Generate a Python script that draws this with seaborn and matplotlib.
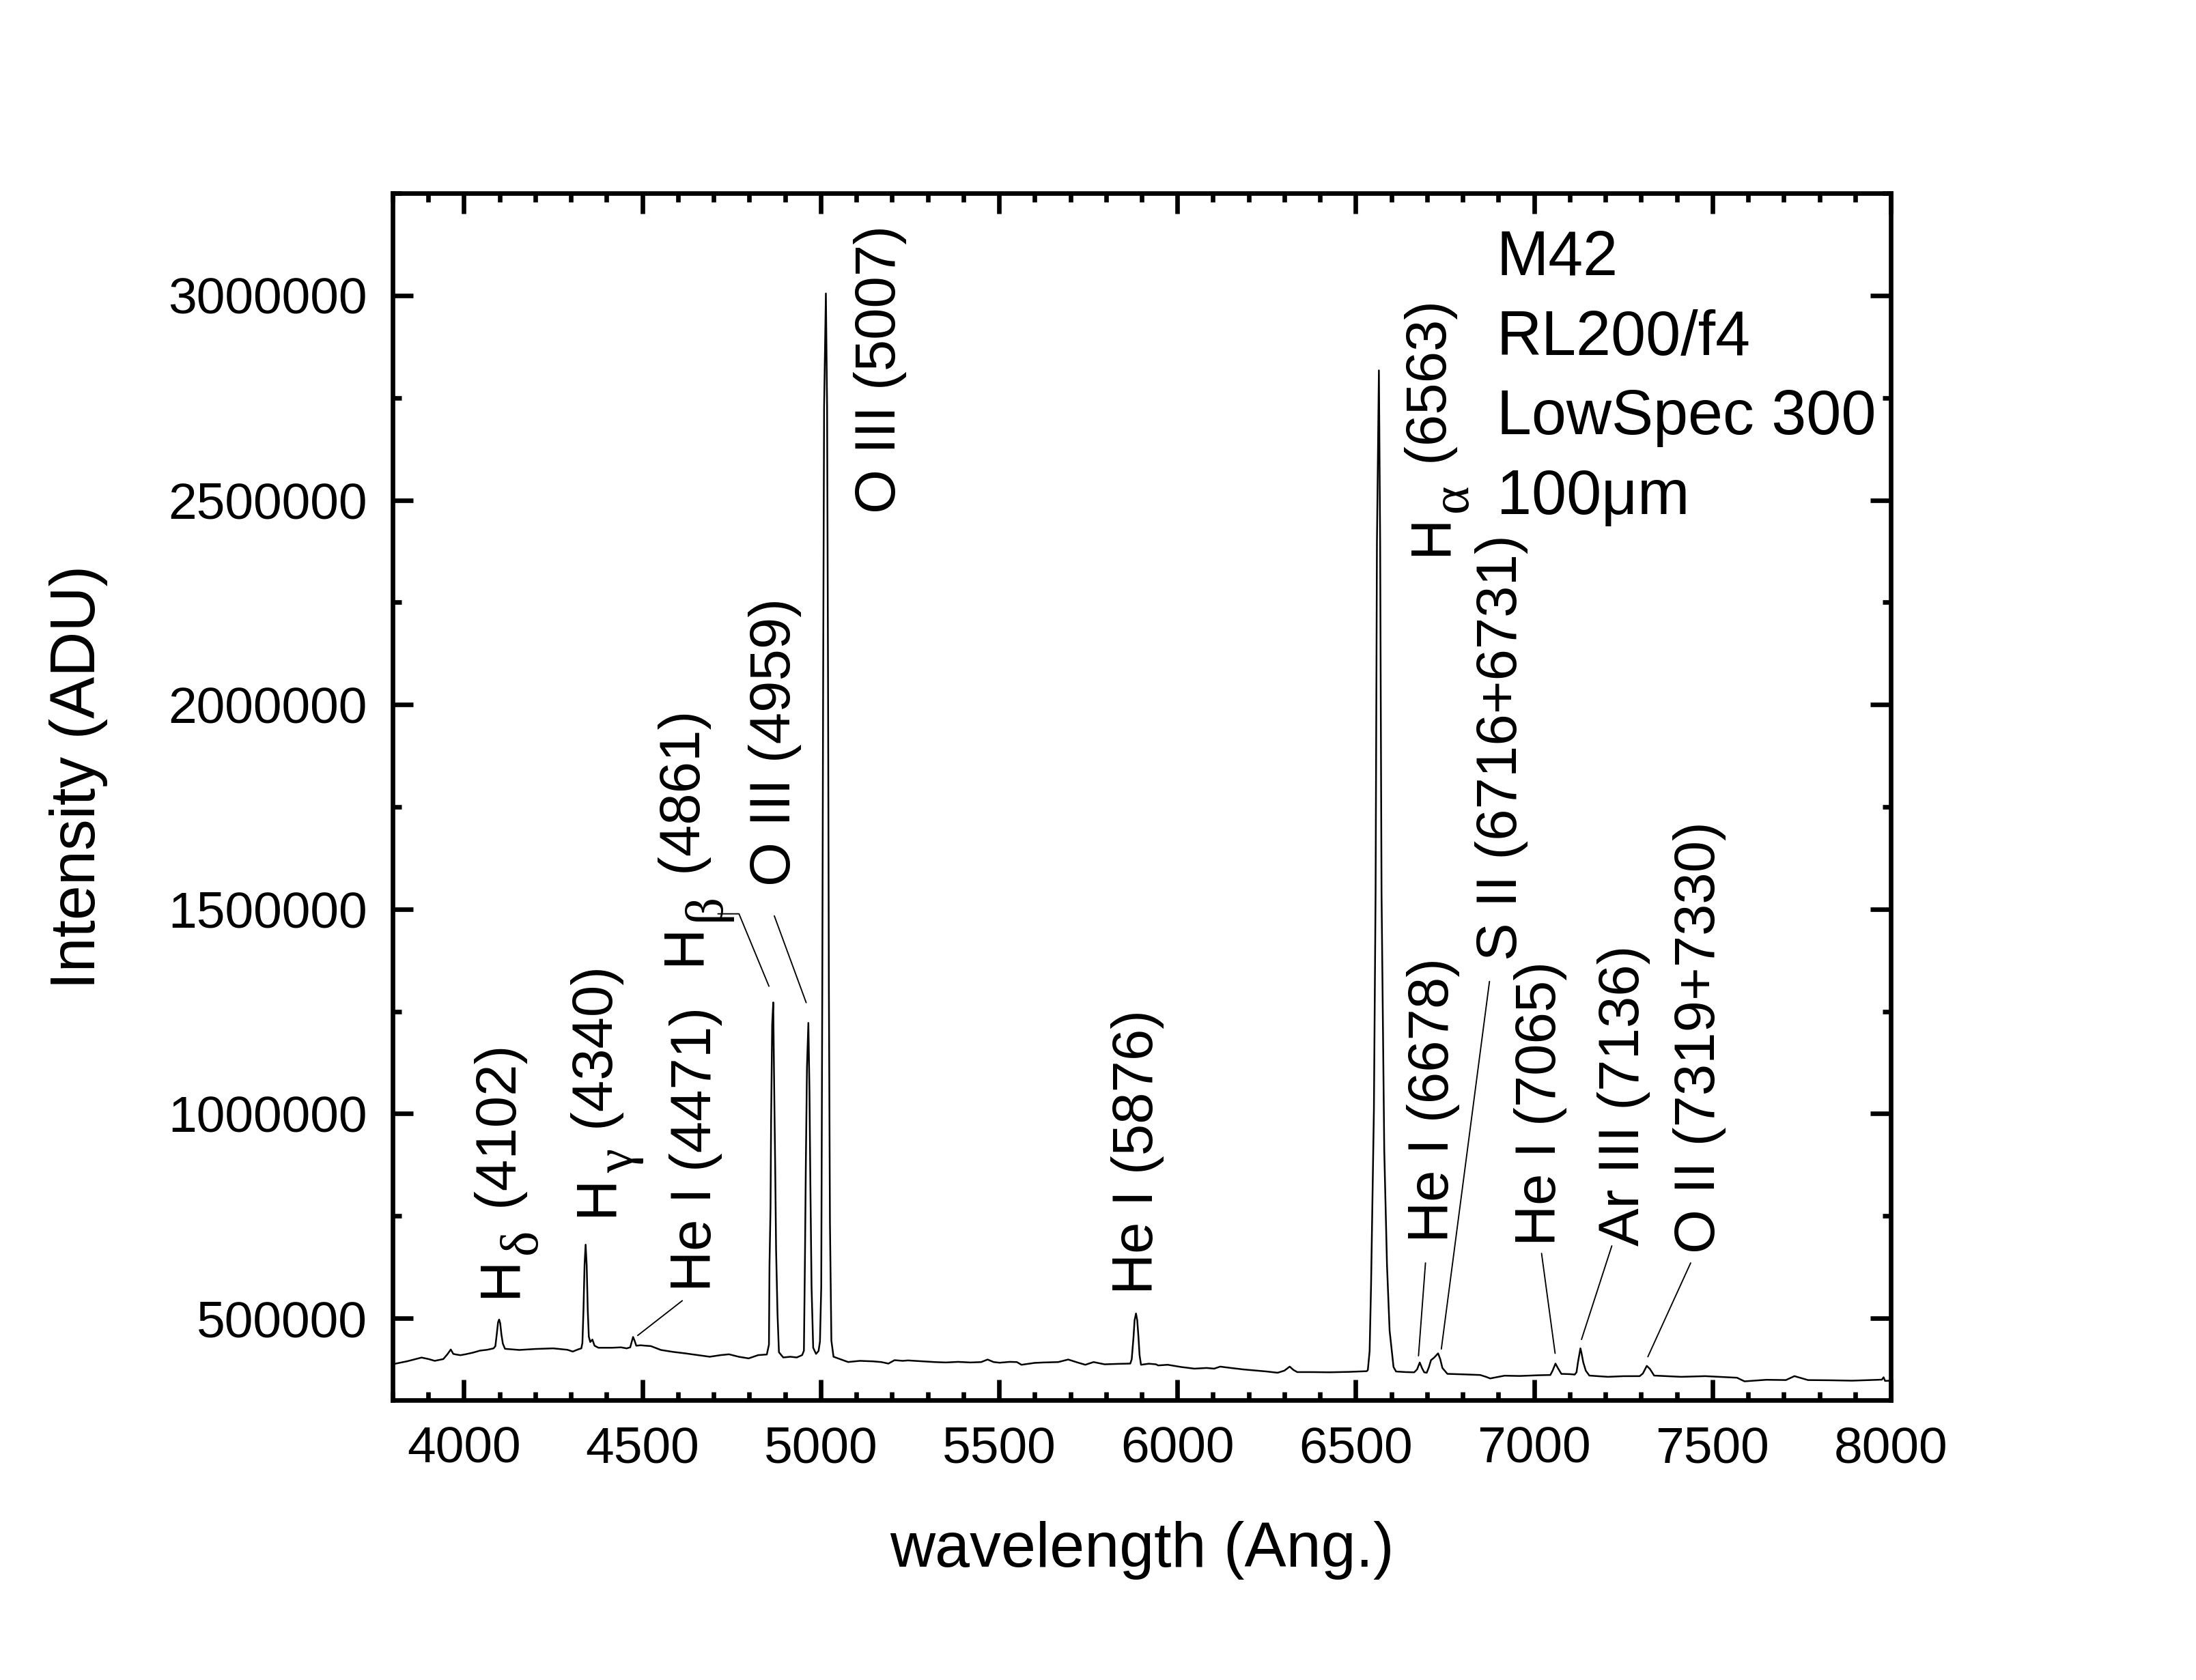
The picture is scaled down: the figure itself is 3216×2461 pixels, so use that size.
import pandas as pd
import seaborn as sns
import matplotlib.pyplot as plt
from matplotlib.ticker import MultipleLocator, ScalarFormatter
from matplotlib.transforms import offset_copy

# spectrum, split by region (wavelength in Angstrom, intensity in ADU)
wl_blue = [3800, 3809, 3840, 3881, 3901, 3918, 3942, 3953, 3963, 3970, 3978, 3990, 4004, 4025, 4045,
           4065, 4083, 4088, 4092, 4095.5, 4098.5, 4101.5, 4105, 4109, 4115, 4135, 4155, 4200, 4250,
           4290, 4305, 4320, 4329, 4332, 4335, 4338, 4341, 4344, 4347, 4350, 4354, 4360, 4366, 4377,
           4415, 4440, 4456, 4466, 4470, 4474, 4478, 4483, 4495, 4524, 4552, 4585, 4620, 4655, 4689,
           4720, 4743, 4770, 4798, 4825, 4849]
adu_blue = [387500, 389300, 394800, 404000, 400300, 396000, 400300, 411500, 423700, 413000, 411500,
            409800, 412000, 416000, 421000, 423000, 426500, 432000, 462000, 490000, 497000, 488000,
            460000, 438000, 425400, 424000, 422600, 425000, 426500, 423000, 418700, 424000, 426500,
            440000, 520000, 630000, 680000, 630000, 520000, 455000, 442000, 448000, 433000, 428000,
            428000, 429000, 426500, 429000, 442000, 454400, 446000, 433000, 434000, 432000, 422600,
            418000, 414300, 410000, 406000, 410000, 412000, 406000, 402000, 410000, 411500]

wl_oiii = [4855, 4856.5, 4859.4, 4861, 4864, 4867, 4869.6, 4872.6, 4875, 4879, 4883, 4895, 4915, 4933,
           4948, 4953, 4956, 4958.4, 4961.6, 4965.5, 4968.6, 4971, 4974.4, 4979, 4987, 4994, 4998,
           5001.6, 5004.5, 5007, 5009.6, 5014.6, 5018, 5020.6, 5023, 5026, 5030, 5036]
adu_oiii = [435700, 629400, 771000, 980000, 1218400, 1272000, 1069500, 860700, 667000, 510000, 417000,
            404300, 406000, 404300, 410000, 420700, 652000, 875800, 1114600, 1222000, 1054400, 838000,
            577300, 428000, 413000, 420000, 443000, 577000, 1308000, 2075000, 2727000, 3005000,
            2727000, 2075000, 1308000, 733000, 445400, 406000]

wl_mid = [5077, 5110, 5146, 5170, 5190, 5207, 5230, 5245, 5283, 5320, 5351, 5385, 5420, 5450, 5468,
          5485, 5502, 5530, 5550, 5563, 5600, 5625, 5666, 5694, 5720, 5742, 5765, 5796, 5830, 5868,
          5872, 5877, 5880, 5884, 5887.5, 5891, 5894, 5898, 5920, 5940, 5946, 5973, 6010, 6048, 6082,
          6103, 6120, 6150, 6185, 6220, 6250, 6281, 6300, 6315, 6325, 6336, 6380, 6425, 6480, 6531]
adu_mid = [393100, 396000, 394800, 393000, 389300, 397600, 396000, 397000, 395000, 393000, 392000,
           393500, 392000, 393000, 399200, 393000, 391400, 393500, 393000, 386400, 391000, 392000,
           393000, 399200, 392000, 386400, 393000, 387500, 388500, 389300, 400000, 453200, 495000,
           511700, 495000, 453200, 410000, 386400, 389000, 387500, 384800, 386400, 381000, 376900,
           378600, 376900, 381900, 378600, 375000, 372400, 370000, 366900, 372000, 381900, 374000,
           368500, 368500, 368000, 369000, 370700]

wl_halpha = [6534, 6539, 6543, 6551, 6555.7, 6559.5, 6565, 6568.5, 6572.4, 6580, 6587.7, 6595, 6601.7,
             6606, 6613]
adu_halpha = [373700, 420000, 580000, 1009000, 1537700, 2396000, 2817000, 2396000, 1537700, 910500,
              629800, 470000, 415200, 381000, 370000]

wl_red = [6640, 6664, 6672, 6679.5, 6686, 6692, 6699, 6705, 6711, 6720, 6731, 6737, 6743, 6757, 6800,
          6849, 6865, 6877, 6917, 6960, 7013, 7045.6, 7052, 7060, 7067, 7076.5, 7100, 7114, 7119, 7123,
          7130, 7133, 7138, 7145, 7155, 7207, 7250, 7296, 7305, 7316, 7325, 7336.6, 7412, 7480, 7569,
          7590, 7651.6, 7706, 7730, 7768, 7830, 7891, 7975, 7980, 7984, 8000]
adu_red = [368500, 368000, 375000, 392000, 378000, 368000, 366900, 380000, 397600, 404000, 414300,
           400000, 378600, 364200, 363000, 361400, 357000, 353000, 359700, 359000, 360800, 361400,
           372000, 389300, 378000, 364200, 363500, 362500, 368000, 392000, 426500, 415000, 392000,
           372000, 360000, 356900, 358500, 358600, 365000, 383600, 376000, 360000, 356900, 358600,
           354700, 345900, 349700, 349000, 358600, 349000, 348500, 347500, 350000, 355800, 347000,
           347500]

# line identifications
line_labels = ['He I (4471)', 'O III (4959)', 'O III (5007)', 'He I (5876)', 'He I (6678)',
               'S II (6716+6731)', 'He I (7065)', 'Ar III (7136)', 'O II (7319+7330)']
# hydrogen lines: letter, greek subscript, rest
balmer_labels = [('H', '\u03b4', ' (4102)'), ('H', '\u03b3', ' (4340)'),
                 ('H', '\u03b2', ' (4861)'), ('H', '\u03b1', ' (6563)')]
info_text = 'M42\nRL200/f4\nLowSpec 300\n100\u03bcm'

df = pd.DataFrame({
    'wavelength': wl_blue + wl_oiii + wl_mid + wl_halpha + wl_red,
    'adu': adu_blue + adu_oiii + adu_mid + adu_halpha + adu_red,
})

sns.set_theme(style='ticks')
plt.rcParams['font.family'] = ['Liberation Sans', 'DejaVu Sans']

fig = plt.figure(figsize=(3216 / 300, 2461 / 300), dpi=300)
ax = fig.add_axes([0.1788, 0.1666, 0.6822, 0.7184])

sns.lineplot(data=df, x='wavelength', y='adu', estimator=None, sort=False,
             color='black', linewidth=0.6, ax=ax)

ax.set_xlim(3800, 8000)
ax.set_ylim(300000, 3250000)
ax.xaxis.set_major_locator(MultipleLocator(500))
ax.xaxis.set_minor_locator(MultipleLocator(100))
ax.yaxis.set_major_locator(MultipleLocator(500000))
ax.yaxis.set_minor_locator(MultipleLocator(250000))
fmt = ScalarFormatter(useOffset=False)
fmt.set_scientific(False)
ax.yaxis.set_major_formatter(fmt)

for s in ax.spines.values():
    s.set_linewidth(1.6)
    s.set_color('black')
ax.tick_params(which='both', direction='in', top=True, right=True, width=1.6,
               color='black', labelcolor='black', labelsize=18, pad=9)
ax.tick_params(which='major', length=7.2)
ax.tick_params(which='minor', length=3.0)

ax.set_xlabel('wavelength (Ang.)', fontsize=22, labelpad=17, color='black')
ax.set_ylabel('Intensity (ADU)', fontsize=22, color='black')
ax.yaxis.set_label_coords(-0.19, 0.516)

# plain labels: centre of the text column, bottom of the text
label_pos = [(4649, 565000), (4872, 1557000), (5167, 2468000), (5889, 558000), (6718, 685400),
             (6908, 1374000), (7018, 677000), (7252, 677000), (7464, 658700)]
for txt, (x, y) in zip(line_labels, label_pos):
    ax.text(x, y, txt, rotation=90, ha='center', va='bottom', fontsize=20, color='black')

# balmer labels are built from pieces so the greek subscript keeps full size
fig.canvas.draw()
renderer = fig.canvas.get_renderer()
balmer_pos = [(4145.7, 550100), (4416, 748800), (4661, 1363400), (6754.5, 2363700)]
kw = dict(rotation=90, rotation_mode='anchor', ha='left', va='baseline', color='black')
for (main, sub, rest), (x, y) in zip(balmer_labels, balmer_pos):
    t1 = ax.text(x, y, main, fontsize=20, **kw)
    adv1 = t1.get_window_extent(renderer).height * 72 / fig.dpi
    tr2 = offset_copy(ax.transData, fig=fig, x=7, y=adv1 + 1, units='points')
    t2 = ax.text(x, y, sub, transform=tr2, fontsize=19, family=['Liberation Serif'], **kw)
    adv2 = t2.get_window_extent(renderer).height * 72 / fig.dpi
    tr3 = offset_copy(ax.transData, fig=fig, x=0, y=adv1 + adv2 + 2, units='points')
    ax.text(x, y, rest, transform=tr3, fontsize=20, **kw)

leaders = [
    [(4612, 543000), (4487, 458000)],
    [(4712, 1488600), (4771, 1488600), (4855, 1311600)],
    [(4870, 1483600), (4959.4, 1271500)],
    [(6695.6, 635300), (6676, 408200)],
    [(6875, 1323300), (6740, 424900)],
    [(7021, 658700), (7059, 414300)],
    [(7218, 677000), (7133, 448200)],
    [(7439, 635300), (7319, 405900)],
]
for pts in leaders:
    xs, ys = zip(*pts)
    ax.plot(xs, ys, color='black', linewidth=0.45)

ax.text(6895, 3162000, info_text, ha='left', va='top', fontsize=22, linespacing=1.46, color='black')

fig.savefig('out.png', dpi=300)
